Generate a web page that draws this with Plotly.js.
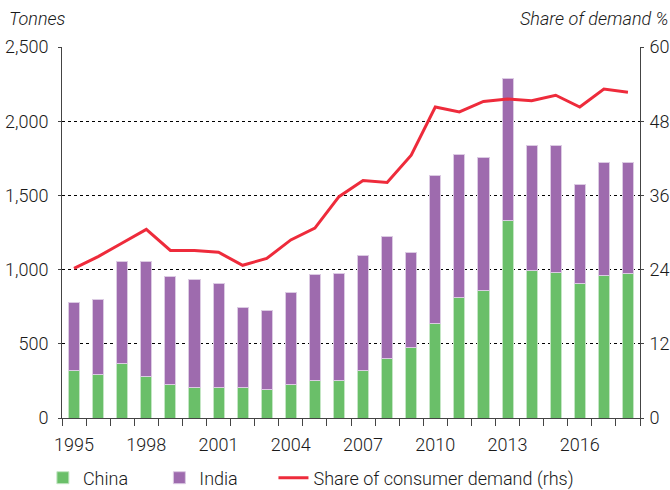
<!DOCTYPE html>
<html>
<head>
<meta charset="utf-8">
<script src="https://cdn.plot.ly/plotly-3.0.1.min.js"></script>
<style>html,body{margin:0;padding:0;background:#fff;}</style>
</head>
<body>
<div id="chart" style="width:670px;height:490px;"></div>
<script>
const years = [1995,1996,1997,1998,1999,2000,2001,2002,2003,2004,2005,2006,2007,2008,2009,2010,2011,2012,2013,2014,2015,2016,2017,2018];
const chinaTonnes = [323,290,368,280,227,204,204,204,193,227,256,256,323,398,476,638,813,856,1334,997,979,908,957,975];
const totalTonnes = [778,800,1052,1052,952,930,908,745,723,844,964,975,1094,1226,1117,1637,1779,1757,2289,1833,1833,1575,1725,1725];
const indiaTonnes = totalTonnes.map((t, i) => t - chinaTonnes[i]);
const sharePct = [24.2,26.1,28.3,30.5,27.1,27.1,26.8,24.7,25.8,28.8,30.7,35.8,38.4,38.1,42.5,50.3,49.5,51.2,51.6,51.3,52.2,50.3,53.2,52.7];
const xTickYears = [1995,1998,2001,2004,2007,2010,2013,2016];
const seriesNames = ['China', 'India', 'Share of consumer demand (rhs)'];

const FONT = 'Roboto, "Liberation Sans", Arial, sans-serif';
const TXT = '#1a1a1a';
const F = {family:FONT, size:18, color:TXT, weight:300};
const NB = '\u00a0';

const traces = [
  {type:'bar', name:seriesNames[0] + NB.repeat(6), x:years, y:chinaTonnes, marker:{color:'#6abf69', line:{color:'#c4e6c4', width:1}}, width:0.46},
  {type:'bar', name:seriesNames[1] + NB.repeat(7), x:years, y:indiaTonnes, marker:{color:'#9e6bae', line:{color:'#dccbe3', width:1}}, width:0.46},
  {type:'scatter', mode:'lines', name:seriesNames[2], x:years, y:sharePct, yaxis:'y2', line:{color:'#ee2b3b', width:3}}
];

const layout = {
  width:670, height:490,
  margin:{l:62, r:30, t:47, b:72},
  barmode:'stack',
  paper_bgcolor:'#fff', plot_bgcolor:'#fff',
  font:F,
  showlegend:true,
  legend:{orientation:'h', x:0.064, xref:'container', xanchor:'left', y:0.0245, yref:'container', yanchor:'middle',
          font:F, traceorder:'normal', itemwidth:30},
  xaxis:{
    range:[1994.5, 2018.5], tickmode:'array', tickvals:xTickYears, ticktext:xTickYears.map(String),
    ticks:'', ticklabelstandoff:10, showgrid:false, zeroline:false, showline:true, linecolor:'#444', linewidth:1,
    tickfont:F,
    minor:{tick0:1994.5, dtick:1, ticks:'outside', ticklen:7, tickcolor:'#444', showgrid:false}
  },
  yaxis:{
    range:[0,2500], dtick:500, tickformat:',', ticks:'outside', ticklen:3, tickcolor:'#444', ticklabelstandoff:6,
    showgrid:true, gridcolor:'#000', griddash:'dot', gridwidth:1.3,
    zeroline:false, showline:true, linecolor:'#444', linewidth:1,
    tickfont:F
  },
  yaxis2:{
    range:[0,60], dtick:12, overlaying:'y', side:'right', ticks:'outside', ticklen:3, tickcolor:'#444', ticklabelstandoff:2,
    showgrid:false, zeroline:false, showline:true, linecolor:'#444', linewidth:1,
    tickfont:F
  },
  annotations:[
    {text:'<i>Tonnes</i>', xref:'paper', yref:'paper', x:-0.095, y:1.077, xanchor:'left', yanchor:'middle', showarrow:false, font:F},
    {text:'<i>Share of demand %</i>', xref:'paper', yref:'paper', x:1.052, y:1.077, xanchor:'right', yanchor:'middle', showarrow:false, font:F}
  ]
};

Plotly.newPlot('chart', traces, layout, {displayModeBar:false, staticPlot:true});
</script>
</body>
</html>
